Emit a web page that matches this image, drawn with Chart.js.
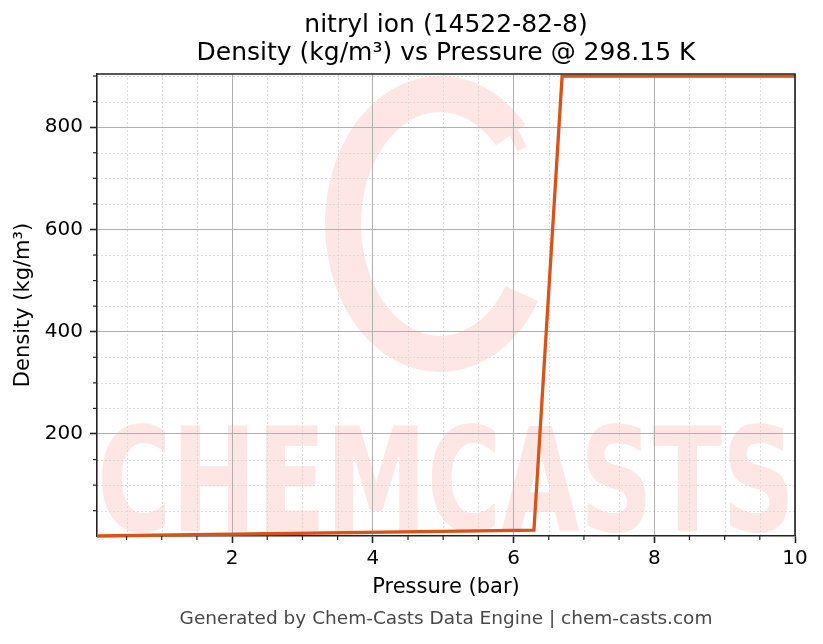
<!DOCTYPE html>
<html>
<head>
<meta charset="utf-8">
<script src="https://cdn.jsdelivr.net/npm/chart.js@4.4.1/dist/chart.umd.min.js"></script>
<style>
	html, body { margin: 0; padding: 0; background: #fff; }
	#wrap { width: 823px; height: 644px; }
</style>
</head>
<body>
<div id="wrap"><canvas id="density-chart" width="823" height="644"></canvas></div>
<script>
// values
var pressure = [0.08, 6.29, 6.69, 10];
var density = [0.5, 12, 900, 900];

var xTicks = [2, 4, 6, 8, 10];
var yTicks = [200, 400, 600, 800];
var xMinorTicks = [0.5, 1, 1.5, 2.5, 3, 3.5, 4.5, 5, 5.5, 6.5, 7, 7.5, 8.5, 9, 9.5];
var yMinorTicks = [50, 100, 150, 250, 300, 350, 450, 500, 550, 650, 700, 750, 850, 900];

var xRange = [pressure[0], 10];
var yRange = [density[0], 904];

var titleLines = ['nitryl ion (14522-82-8)', 'Density (kg/m\u00b3) vs Pressure @ 298.15 K'];
var footerText = 'Generated by Chem-Casts Data Engine | chem-casts.com';

Chart.defaults.font.family = '"DejaVu Sans", sans-serif';
Chart.defaults.color = '#000';

var ChemCastsDecor = {
	id: 'chemCastsDecor',
	beforeDraw: function(chart) {
		var ctx = chart.ctx;
		var ca = chart.chartArea;
		var xs = chart.scales.x;
		var ys = chart.scales.y;

		ctx.save();
		ctx.fillStyle = '#fff';
		ctx.fillRect(0, 0, chart.width, chart.height);

		// watermark: logo ring + CHEMCASTS
		ctx.save();
		ctx.beginPath();
		ctx.rect(ca.left, ca.top, ca.right - ca.left, ca.bottom - ca.top);
		ctx.clip();
		ctx.strokeStyle = '#fde6e3';
		ctx.lineWidth = 36;
		ctx.beginPath();
		ctx.ellipse(440, 224, 97, 130, 0, 0.18 * Math.PI, 1.76 * Math.PI);
		ctx.stroke();
		ctx.lineWidth = 10;
		ctx.beginPath();
		ctx.ellipse(440, 200, 92, 112, 0, 1.3 * Math.PI, 1.85 * Math.PI);
		ctx.stroke();

		ctx.fillStyle = '#fde6e3';
		ctx.font = 'bold 144px "DejaVu Sans"';
		ctx.textBaseline = 'alphabetic';
		ctx.textAlign = 'left';
		var w = ctx.measureText('CHEMCASTS').width;
		ctx.translate(ca.left, 531);
		ctx.scale((ca.right - ca.left) / w, 1);
		ctx.fillText('CHEMCASTS', 0, 0);
		ctx.restore();

		// minor grid, dotted
		ctx.strokeStyle = '#d6d6d6';
		ctx.lineWidth = 0.8;
		ctx.setLineDash([2, 2]);
		xMinorTicks.forEach(function(v) {
			var px = Math.round(xs.getPixelForValue(v)) + 0.5;
			ctx.beginPath();
			ctx.moveTo(px, ca.top);
			ctx.lineTo(px, ca.bottom);
			ctx.stroke();
		});
		yMinorTicks.forEach(function(v) {
			var py = Math.round(ys.getPixelForValue(v)) + 0.5;
			ctx.beginPath();
			ctx.moveTo(ca.left, py);
			ctx.lineTo(ca.right, py);
			ctx.stroke();
		});
		ctx.restore();
	},
	afterDraw: function(chart) {
		var ctx = chart.ctx;
		var ca = chart.chartArea;
		var xs = chart.scales.x;
		var ys = chart.scales.y;
		var cx = (ca.left + ca.right) / 2;

		ctx.save();
		// top and right frame
		ctx.strokeStyle = '#222';
		ctx.lineWidth = 1.6;
		ctx.beginPath();
		ctx.moveTo(ca.left, ca.top);
		ctx.lineTo(ca.right, ca.top);
		ctx.lineTo(ca.right, ca.bottom);
		ctx.stroke();

		// minor ticks
		ctx.lineWidth = 1.2;
		xMinorTicks.forEach(function(v) {
			var px = xs.getPixelForValue(v);
			ctx.beginPath();
			ctx.moveTo(px, ca.bottom);
			ctx.lineTo(px, ca.bottom + 4);
			ctx.stroke();
		});
		yMinorTicks.forEach(function(v) {
			var py = ys.getPixelForValue(v);
			ctx.beginPath();
			ctx.moveTo(ca.left, py);
			ctx.lineTo(ca.left - 4, py);
			ctx.stroke();
		});

		// title
		ctx.fillStyle = '#000';
		ctx.textAlign = 'center';
		ctx.textBaseline = 'middle';
		ctx.font = '25px "DejaVu Sans"';
		ctx.fillText(titleLines[0], cx, 25);
		ctx.fillText(titleLines[1], cx, 53);

		// footer
		ctx.fillStyle = '#484848';
		ctx.font = '18.5px "DejaVu Sans"';
		ctx.fillText(footerText, cx, 619);
		ctx.restore();
	}
};

var points = pressure.map(function(p, i) {
	return { x: p, y: density[i] };
});

new Chart(document.getElementById('density-chart'), {
	type: 'line',
	data: {
		datasets: [{
			label: 'Density',
			data: points,
			borderColor: '#d95319',
			backgroundColor: '#d95319',
			borderWidth: 3.3,
			pointRadius: 0,
			tension: 0,
			fill: false,
			clip: false
		}]
	},
	options: {
		responsive: false,
		animation: false,
		events: [],
		layout: {
			padding: { left: 0, right: 28, top: 74, bottom: 44 }
		},
		plugins: {
			legend: { display: false },
			title: { display: false },
			tooltip: { enabled: false }
		},
		scales: {
			x: {
				type: 'linear',
				min: xRange[0],
				max: xRange[1],
				afterBuildTicks: function(scale) {
					scale.ticks = xTicks.map(function(v) { return { value: v }; });
				},
				afterFit: function(scale) {
					scale.height = 64;
				},
				ticks: {
					font: { size: 20 },
					color: '#000',
					padding: 4,
					maxRotation: 0,
					autoSkip: false
				},
				grid: {
					color: '#b0b0b0',
					lineWidth: 1,
					tickColor: '#222',
					tickLength: 7,
					tickWidth: 1.6
				},
				border: { color: '#222', width: 1.6 },
				title: {
					display: true,
					text: 'Pressure (bar)',
					font: { size: 21 },
					color: '#000',
					padding: { top: 0, bottom: 0 }
				}
			},
			y: {
				type: 'linear',
				min: yRange[0],
				max: yRange[1],
				afterBuildTicks: function(scale) {
					scale.ticks = yTicks.map(function(v) { return { value: v }; });
				},
				afterFit: function(scale) {
					scale.width = 97;
				},
				ticks: {
					font: { size: 20 },
					color: '#000',
					padding: 7
				},
				grid: {
					color: '#b0b0b0',
					lineWidth: 1,
					tickColor: '#222',
					tickLength: 7,
					tickWidth: 1.6
				},
				border: { color: '#222', width: 1.6 },
				title: {
					display: true,
					text: 'Density (kg/m\u00b3)',
					font: { size: 21 },
					color: '#000',
					padding: { top: 11, bottom: 0 }
				}
			}
		}
	},
	plugins: [ChemCastsDecor]
});
</script>
</body>
</html>
